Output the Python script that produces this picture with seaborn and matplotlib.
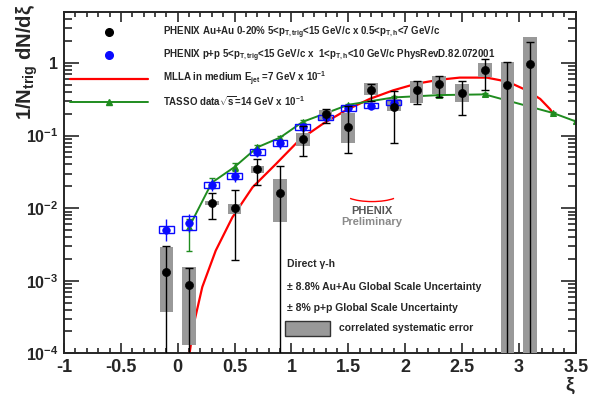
import matplotlib
matplotlib.use("Agg")
import matplotlib.pyplot as plt
from matplotlib.lines import Line2D
from matplotlib.patches import Rectangle, Arc
import pandas as pd
import seaborn as sns

# PHENIX Au+Au 0-20% (black), stat errors and correlated syst. boxes
xi_auau = [-0.1, 0.1, 0.3, 0.5, 0.7, 0.9, 1.1, 1.3, 1.5, 1.7, 1.9, 2.1, 2.3, 2.5, 2.7, 2.9, 3.1]
auau = [1.3e-3, 8.8e-4, 1.18e-2, 1.02e-2, 3.47e-2, 1.6e-2, 0.09, 0.198, 0.132, 0.42,
        0.25, 0.42, 0.51, 0.39, 0.81, 0.50, 0.98]
auau_hi = [3.0e-3, 1.5e-3, 1.62e-2, 1.78e-2, 4.8e-2, 3.8e-2, 0.137, 0.23, 0.26, 0.52,
           0.41, 0.57, 0.66, 0.57, 1.12, 1.02, 1.98]
auau_lo = [1e-5, 1e-5, 7.1e-3, 1.96e-3, 2.1e-2, 1e-5, 0.053, 0.15, 0.058, 0.30,
           0.079, 0.27, 0.34, 0.19, 0.43, 1e-5, 1e-5]
auau_sys_hi = [2.9e-3, 1.57e-3, 1.27e-2, 1.16e-2, 3.8e-2, 2.5e-2, 0.11, 0.227, 0.204, 0.53,
               0.32, 0.57, 0.67, 0.52, 0.99, 1.05, 2.28]
auau_sys_lo = [3.7e-4, 1.3e-4, 1.1e-2, 8.2e-3, 3.1e-2, 6.5e-3, 0.072, 0.165, 0.080, 0.366,
               0.215, 0.28, 0.37, 0.295, 0.65, 1e-5, 1e-5]

# PHENIX p+p (blue)
xi_pp = [-0.1, 0.1, 0.3, 0.5, 0.7, 0.9, 1.1, 1.3, 1.5, 1.7, 1.9]
pp = [5.0e-3, 6.2e-3, 2.07e-2, 2.8e-2, 6.0e-2, 7.8e-2, 0.13, 0.178, 0.24, 0.26, 0.286]
pp_hi = [7.1e-3, 8.2e-3, 2.55e-2, 3.45e-2, 7.2e-2, 9.3e-2, 0.15, 0.2, 0.265, 0.285, 0.31]
pp_lo = [3.5e-3, 4.7e-3, 1.7e-2, 2.3e-2, 5.0e-2, 6.6e-2, 0.113, 0.16, 0.218, 0.238, 0.265]
pp_sys_hi = [5.6e-3, 7.7e-3, 2.3e-2, 3.1e-2, 6.6e-2, 8.6e-2, 0.143, 0.195, 0.262, 0.283, 0.31]
pp_sys_lo = [4.5e-3, 5.0e-3, 1.87e-2, 2.53e-2, 5.45e-2, 7.1e-2, 0.118, 0.163, 0.22, 0.238, 0.262]

# MLLA in medium (red curve)
xi_mlla = [0.10, 0.143, 0.216, 0.334, 0.481, 0.658, 0.864, 1.07, 1.275, 1.48, 1.687,
           1.893, 2.1, 2.305, 2.48, 2.717, 2.835, 2.952, 3.07, 3.188, 3.276, 3.31]
mlla = [9e-5, 2.6e-4, 8.2e-4, 2.6e-3, 7.5e-3, 1.94e-2, 4.07e-2, 0.087, 0.145, 0.224, 0.32,
        0.42, 0.52, 0.59, 0.63, 0.63, 0.58, 0.51, 0.42, 0.32, 0.23, 0.188]

# TASSO data (green)
xi_tasso = [0.1, 0.3, 0.5, 0.7, 0.9, 1.1, 1.5, 1.9, 2.3, 2.7, 3.3, 3.5]
tasso = [5.5e-3, 2.25e-2, 3.7e-2, 6.9e-2, 9.4e-2, 0.155, 0.266, 0.336, 0.362, 0.37, 0.205, 0.157]
tasso_hi = [7.0e-3, 2.6e-2, 4.2e-2, 7.5e-2, 0.1, 0.163, 0.277, 0.348, 0.374, 0.383, 0.213, 0.163]
tasso_lo = [2.6e-3, 1.9e-2, 3.3e-2, 6.3e-2, 0.088, 0.147, 0.255, 0.324, 0.35, 0.357, 0.197, 0.151]

xticks = [-1, -0.5, 0, 0.5, 1, 1.5, 2, 2.5, 3, 3.5]
xtick_labels = ["-1", "-0.5", "0", "0.5", "1", "1.5", "2", "2.5", "3", "3.5"]
yticks = [1e-4, 1e-3, 1e-2, 1e-1, 1]
ytick_labels = [r"$10^{-4}$", r"$10^{-3}$", r"$10^{-2}$", r"$10^{-1}$", "1"]

sns.set_style("ticks")
plt.rcParams["font.family"] = ["Liberation Sans", "DejaVu Sans"]
plt.rcParams["font.weight"] = "bold"
plt.rcParams["mathtext.fontset"] = "custom"
plt.rcParams["mathtext.rm"] = "Liberation Sans:bold"
plt.rcParams["mathtext.it"] = "Liberation Sans:bold"
plt.rcParams["mathtext.bf"] = "Liberation Sans:bold"

df_auau = pd.DataFrame({"xi": xi_auau, "y": auau})
df_pp = pd.DataFrame({"xi": xi_pp, "y": pp})
df_mlla = pd.DataFrame({"xi": xi_mlla, "y": mlla})
df_tasso = pd.DataFrame({"xi": xi_tasso, "y": tasso})

fig = plt.figure(figsize=(5.9, 3.98), dpi=100)
ax = fig.add_axes([0.1085, 0.1123, 0.8673, 0.8567])
ax.set_yscale("log")

red = "#ff0000"
green = "#1f8c1f"
gray = "#999999"
blue = "#0a0aff"

sns.lineplot(data=df_mlla, x="xi", y="y", color=red, lw=1.6, ax=ax, zorder=2)
sns.lineplot(data=df_tasso, x="xi", y="y", color=green, lw=1.4, marker="^",
             markersize=5, markeredgecolor=green, ax=ax, zorder=2)
ax.errorbar(xi_tasso, tasso,
            yerr=[[t - l for t, l in zip(tasso, tasso_lo)], [h - t for t, h in zip(tasso, tasso_hi)]],
            fmt="none", ecolor=green, elinewidth=1, capsize=2, zorder=2)

# correlated systematic boxes
ax.bar(xi_auau, [h - l for h, l in zip(auau_sys_hi, auau_sys_lo)], bottom=auau_sys_lo,
       width=0.12, color=gray, edgecolor="none", zorder=3)
ax.bar(xi_pp, [h - l for h, l in zip(pp_sys_hi, pp_sys_lo)], bottom=pp_sys_lo,
       width=0.13, fill=False, edgecolor=blue, lw=1, zorder=4)
ax.errorbar(xi_pp, pp,
            yerr=[[v - l for v, l in zip(pp, pp_lo)], [h - v for v, h in zip(pp, pp_hi)]],
            fmt="none", ecolor=blue, elinewidth=1, capsize=0, zorder=4)
sns.scatterplot(data=df_pp, x="xi", y="y", color=blue, s=30, edgecolor=blue, ax=ax, zorder=5)
ax.errorbar(xi_auau, auau,
            yerr=[[v - l for v, l in zip(auau, auau_lo)], [h - v for v, h in zip(auau, auau_hi)]],
            fmt="none", ecolor="black", elinewidth=1, capsize=3, zorder=6)
sns.scatterplot(data=df_auau, x="xi", y="y", color="black", s=34, edgecolor="black", ax=ax, zorder=7)

ax.set_xlim(-1, 3.5)
ax.set_ylim(1e-4, 5)
ax.set_xticks(xticks)
ax.set_xticklabels(xtick_labels, fontsize=13, fontweight="bold")
ax.set_xticks([i / 10 for i in range(-10, 36)], minor=True)
ax.set_yticks(yticks)
ax.set_yticklabels(ytick_labels, fontsize=11.5)
ax.tick_params(which="both", direction="in", top=True, right=True, width=1.2, pad=4)
ax.tick_params(axis="y", which="major", length=11)
ax.tick_params(axis="y", which="minor", length=5.5)
ax.tick_params(axis="x", which="major", length=7)
ax.tick_params(axis="x", which="minor", length=3.6)
for sp in ax.spines.values():
    sp.set_linewidth(1.4)

ax.set_xlabel(r"$\xi$", fontsize=14, loc="right", labelpad=0)
ax.set_ylabel(r"1/N$_{trig}$ dN/d$\xi$", fontsize=14.5, loc="top", fontweight="bold")
ax.yaxis.set_label_coords(-0.047, 1.025)

handles = [
    Line2D([], [], color="black", marker="o", ls="none", markersize=5.5),
    Line2D([], [], color=blue, marker="o", ls="none", markersize=5.5),
    Line2D([], [], color=red, lw=1.6),
    Line2D([], [], color=green, lw=1.4, marker="^", markersize=5),
]
labels = [
    r"PHENIX Au+Au 0-20% 5<p$_{T,trig}$<15 GeV/c x 0.5<p$_{T,h}$<7 GeV/c",
    r"PHENIX p+p 5<p$_{T,trig}$<15 GeV/c x  1<p$_{T,h}$<10 GeV/c PhysRevD.82.072001",
    r"MLLA in medium E$_{jet}$ =7 GeV x 10$^{-1}$",
    r"TASSO data$\sqrt{s}$=14 GeV x 10$^{-1}$",
]
ax.legend(handles, labels, loc="upper left", bbox_to_anchor=(0.0, 0.98), frameon=False,
          fontsize=7, handlelength=8, handletextpad=1.6, labelspacing=0.62,
          borderpad=0.3, borderaxespad=0.3)

# PHENIX preliminary tag
ax.add_patch(Arc((0.602, 0.47), 0.11, 0.05, theta1=200, theta2=340, transform=ax.transAxes,
                 color=red, lw=1))
ax.text(0.602, 0.418, "PHENIX", transform=ax.transAxes, ha="center", va="center",
        fontsize=8, color="#555555", fontweight="bold")
ax.text(0.602, 0.385, "Preliminary", transform=ax.transAxes, ha="center", va="center",
        fontsize=8, color="#8a8a8a", fontweight="bold")

# global scale uncertainties box
ax.text(0.436, 0.262, "Direct γ-h", transform=ax.transAxes, fontsize=7.5, va="center")
ax.text(0.436, 0.195, "± 8.8% Au+Au Global Scale Uncertainty", transform=ax.transAxes,
        fontsize=7.5, va="center")
ax.text(0.436, 0.133, "± 8% p+p Global Scale Uncertainty", transform=ax.transAxes,
        fontsize=7.5, va="center")
ax.add_patch(Rectangle((0.432, 0.051), 0.088, 0.044, transform=ax.transAxes,
                       facecolor=gray, edgecolor="#333333", lw=1, zorder=8))
ax.text(0.537, 0.074, "correlated systematic error", transform=ax.transAxes,
        fontsize=7.5, va="center")

fig.savefig("out.png", dpi=100)
